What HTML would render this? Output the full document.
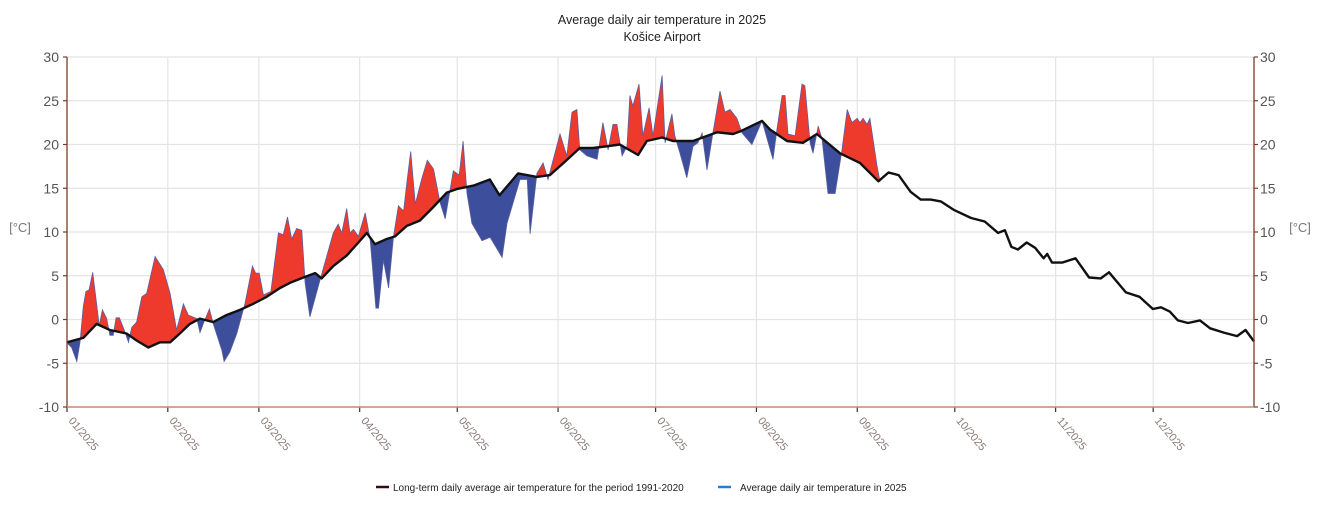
<!DOCTYPE html>
<html><head><meta charset="utf-8">
<style>
html,body{margin:0;padding:0;background:#fff;}
svg{display:block;font-family:"Liberation Sans",sans-serif;}
</style></head>
<body>
<svg id="chart" width="1325" height="505" viewBox="0 0 1325 505" xmlns="http://www.w3.org/2000/svg">
<text x="662" y="24" text-anchor="middle" font-size="12.5" fill="#222">Average daily air temperature in 2025</text>
<text x="662" y="41" text-anchor="middle" font-size="12.5" fill="#222">Košice Airport</text>
<g id="grid"></g>
<g id="areas"></g>
<g id="axes"></g>
<text x="20" y="232" text-anchor="middle" font-size="13" fill="#777">[°C]</text>
<text x="1300" y="232" text-anchor="middle" font-size="13" fill="#777">[°C]</text>
<g>
<g>
<line x1="376" y1="487" x2="389" y2="487" stroke="#3a0a0a" stroke-width="2.5"/>
<text x="393" y="491" font-size="10" fill="#222">Long-term daily average air temperature for the period 1991-2020</text>
</g>
<g>
<line x1="718" y1="487" x2="731" y2="487" stroke="#2a7ad0" stroke-width="2.5"/>
<text x="740" y="491" font-size="10" fill="#222">Average daily air temperature in 2025</text>
</g>
</g>
</svg>
<script>
const monthLabels=["01/2025","02/2025","03/2025","04/2025","05/2025","06/2025","07/2025","08/2025","09/2025","10/2025","11/2025","12/2025"];
const monthStartDays=[0,31,59,90,120,151,181,212,243,273,304,334];
const yTicks=[-10,-5,0,5,10,15,20,25,30];
const normalDays=[0,5,9.1,13.2,18.3,21.4,25,28.6,31.7,34.7,37.8,40.9,45,49,53.2,57.3,61.4,65.5,68.6,72.7,76.3,78.3,81.9,86,89.6,92.2,94.7,98.3,100.9,104.5,108.5,112.5,116.8,119.8,125,130,133,138.7,144.5,148.5,153,157.7,161.7,166,170,175.6,178.3,183,186.3,192.5,199.9,204.8,207,213.7,216.2,221.4,226.3,230.6,237.7,243.8,249.5,252.6,255.7,259.4,262.5,265.6,268.7,272.8,278,282.2,286.3,288.4,290.4,292.4,295.1,297.7,300.3,301.4,302.9,306,310.1,314.3,317.9,320.4,325.6,329.8,333.9,336.4,339.1,341.6,344.7,348.4,351.5,355.7,359.8,362.4,365];
const normalTemps=[-2.6,-2.1,-0.5,-1.2,-1.6,-2.4,-3.2,-2.6,-2.6,-1.6,-0.5,0.1,-0.3,0.5,1.1,1.8,2.6,3.6,4.2,4.8,5.3,4.7,6.1,7.3,8.8,9.9,8.6,9.2,9.5,10.7,11.3,12.8,14.5,14.9,15.3,16,14.2,16.7,16.3,16.5,18,19.6,19.6,19.8,20,18.8,20.4,20.8,20.4,20.4,21.4,21.2,21.5,22.7,21.7,20.4,20.2,21.2,19,17.9,15.8,16.8,16.5,14.6,13.7,13.7,13.5,12.5,11.6,11.2,9.9,10.2,8.3,8,8.8,8.2,7,7.5,6.5,6.5,7,4.8,4.7,5.4,3.1,2.6,1.2,1.4,0.9,-0.1,-0.4,-0.1,-1,-1.5,-1.9,-1.2,-2.5];
const actualDays=[0.3,1.4,3,4,5,5.8,6.8,7.9,9.1,9.9,10.9,12.2,13.2,14.2,15.1,16.1,17.8,18.9,19.9,21.4,23,24.5,27.1,29.6,31.7,33.7,35.8,37.3,39.9,40.9,42.1,43.8,45,47.6,48.3,50.1,52.2,54.7,57,58,59.1,60.4,62.7,65,66.5,67.8,69.1,70.6,72.2,73.2,74.7,77.8,81.9,83.4,84.5,86,87,88.1,89.6,91.7,93.2,95,95.8,97.3,98.9,100.4,101.9,103.5,104.5,105.7,107.1,109.1,110.8,112.7,114.7,116.3,118.8,120.6,121.8,123,124.5,127.6,130.1,133.8,135.3,139.3,141.5,142.4,144.5,146.4,147.9,151.6,153.7,155.3,156.8,157.7,159.9,163,164.8,166.4,167.9,169.1,170.7,172.2,173.1,174,175.9,177.1,179,180.2,183,183.9,186,186.9,188.5,190.6,192.5,194,195.3,196.8,198.6,200.8,202.3,203.9,206,207.6,210.6,213.7,217.1,218.3,219.9,220.8,221.7,223.9,226,226.9,228.5,229.4,231,232.2,234,236.2,238.3,239.9,241.4,243,243.8,244.8,246,246.9,249.1,250];
const actualTemps=[-2.8,-3.2,-4.8,-2.6,1.5,3.2,3.4,5.4,1.8,-0.7,1.1,0.1,-1.8,-1.8,0.2,0.2,-1.4,-2.6,-0.9,-0.3,2.6,3,7.2,5.7,3,-1.2,1.8,0.5,0.1,-1.5,-0.3,1.2,-0.5,-3.5,-4.8,-3.7,-1.6,1.8,6.1,5.3,5.3,2.8,3.2,9.9,9.7,11.7,9.2,10.4,10.2,4.2,0.3,4.5,9.9,10.9,9.9,12.7,9.9,10.3,9.5,12.2,9.2,1.3,1.3,6.8,3.6,9.5,13,12.4,15.6,19.2,13.2,16.1,18.2,17.2,13.4,11.5,17,16.5,20.4,14.4,11,9,9.4,7.1,11,16,16,9.8,16.7,17.9,16,21.2,18.7,23.7,24,19.4,18.7,18.3,22.5,19.4,22.3,22.3,18.7,19.8,25.6,24.4,26.9,21,24.2,21,27.9,20.2,23.5,21,19,16.2,19.8,20.2,21.3,17.1,21.3,26.1,23.7,24,23,21.3,20,22.7,18.3,21.7,25.6,25.6,21.2,21,26.9,26.7,20.2,19,22.1,20.6,14.4,14.4,19.4,24,22.5,23,22.5,23,22.3,23,17.5,15.8];

const NS="http://www.w3.org/2000/svg";
const X0=67,X1=1254,Y0=57,Y1=407;
const xS=d=>X0+d*(X1-X0)/365;
const yS=v=>Y0+(30-v)*(Y1-Y0)/40;
function mk(tag,attrs,parent){const e=document.createElementNS(NS,tag);for(const k in attrs)e.setAttribute(k,attrs[k]);parent.appendChild(e);return e;}
const grid=document.getElementById('grid'),axes=document.getElementById('axes'),areas=document.getElementById('areas'),svg=document.getElementById('chart');

yTicks.forEach(v=>{
  const g=mk('line',{x1:X0,x2:X1,y1:yS(v),y2:yS(v),stroke:'#e4e4e4','stroke-width':1.2},grid);
  
  
  const tl=mk('text',{x:X0-8,y:yS(v)+5,'text-anchor':'end','font-size':14,fill:'#555'},axes);
  tl.textContent=v;
  
  
  const tr=mk('text',{x:X1+6,y:yS(v)+5,'text-anchor':'start','font-size':14,fill:'#555'},axes);
  tr.textContent=v;
  
  
  mk('line',{x1:X0-4,x2:X0,y1:yS(v),y2:yS(v),stroke:'#7a3b25','stroke-width':1.2},axes);
  mk('line',{x1:X1,x2:X1+4,y1:yS(v),y2:yS(v),stroke:'#7a3b25','stroke-width':1.2},axes);
});
monthStartDays.forEach((d,i)=>{
  const x=xS(d);
  if(i>0){const g=mk('line',{x1:x,x2:x,y1:Y0,y2:Y1,stroke:'#e4e4e4','stroke-width':1.2},grid);
  
  }
  mk('line',{x1:x,x2:x,y1:Y1,y2:Y1+5,stroke:'#333','stroke-width':1.2},axes);
  const t=mk('text',{x:x+1,y:Y1+14,'font-size':11,fill:'#8a7a74',transform:`rotate(50 ${x+1} ${Y1+14})`},axes);
  t.textContent=monthLabels[i];
  
  
});

const normPts=normalDays.map((d,i)=>[xS(d),yS(normalTemps[i])]);
const actPts=actualDays.map((d,i)=>[xS(d),yS(actualTemps[i])]);
const lastD=actualDays[actualDays.length-1];
const normPart=normPts.filter((p,i)=>normalDays[i]<=lastD);
const ptsStr=a=>a.map(p=>p[0].toFixed(1)+','+p[1].toFixed(1)).join(' ');
const poly=ptsStr(actPts)+' '+ptsStr(normPart.slice().reverse());
const defs=mk('defs',{},svg);
const cA=mk('clipPath',{id:'above'},defs);
mk('polygon',{points:ptsStr(normPts)+` ${xS(365)},0 ${xS(0)},0`},cA);
const cB=mk('clipPath',{id:'below'},defs);
mk('polygon',{points:ptsStr(normPts)+` ${xS(365)},505 ${xS(0)},505`},cB);
const red=mk('polygon',{points:poly,fill:'#ee3a2c','clip-path':'url(#above)'},areas);


const blue=mk('polygon',{points:poly,fill:'#3d4e9c','clip-path':'url(#below)'},areas);


const al=mk('polyline',{points:ptsStr(actPts),fill:'none',stroke:'#5a5fa0','stroke-width':0.8},areas);


const nl=mk('polyline',{points:ptsStr(normPts),fill:'none',stroke:'#111','stroke-width':2.4,'stroke-linejoin':'round'},areas);



const la=mk('line',{x1:X0,x2:X0,y1:Y0,y2:Y1,stroke:'#7a3b25','stroke-width':1.3},axes);


const ra=mk('line',{x1:X1,x2:X1,y1:Y0,y2:Y1,stroke:'#7a3b25','stroke-width':1.3},axes);


const xa=mk('line',{x1:X0,x2:X1,y1:Y1,y2:Y1,stroke:'#c98a70','stroke-width':1.5},axes);


</script>
</body></html>
